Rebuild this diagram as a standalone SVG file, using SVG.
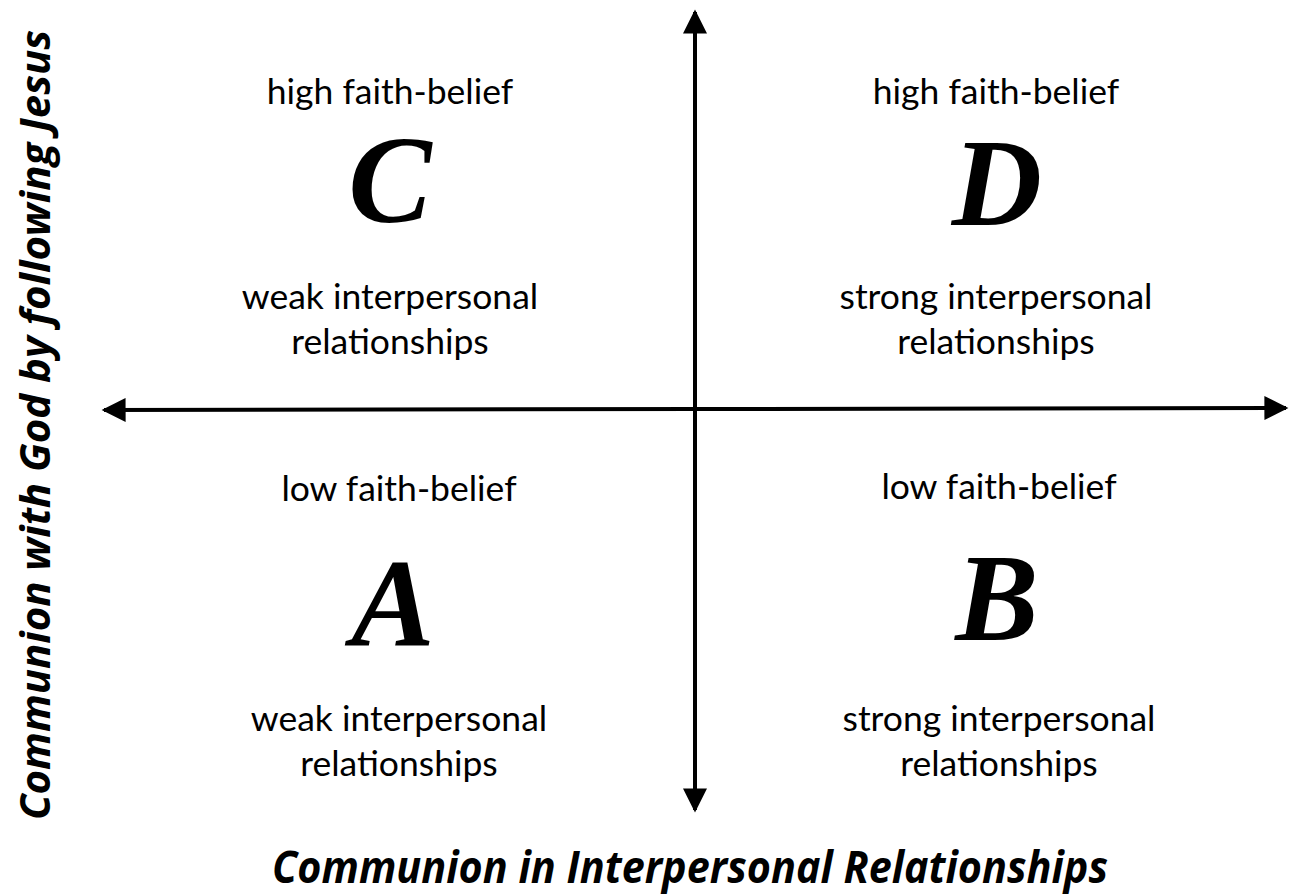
<svg xmlns="http://www.w3.org/2000/svg" width="1290" height="894" viewBox="0 0 1290 894">
<style>
.t{font-family:Lato,"Open Sans",sans-serif;font-size:35.5px;fill:#000;text-anchor:middle}
.big{font-family:"Liberation Serif",serif;font-style:italic;font-weight:bold;font-size:125px;fill:#000;text-anchor:middle}
.ax{font-family:"Open Sans","Noto Sans",sans-serif;font-style:italic;font-weight:bold;font-size:44px;fill:#000;text-anchor:middle}
.ay{font-family:"Open Sans","Noto Sans",sans-serif;font-style:italic;font-weight:bold;font-size:42px;fill:#000;text-anchor:middle}
.ln{stroke:#000;stroke-width:4;fill:none}
</style>
<defs>
<marker id="ah" viewBox="0 0 10 10" refX="9" refY="5" markerWidth="7" markerHeight="6" markerUnits="strokeWidth" orient="auto">
<path d="M0,0 L10,5 L0,10 Z" fill="#000"/>
</marker>
</defs>
<rect width="1290" height="894" fill="#fff"/>
<g id="connectors">
<line class="ln" x1="695" y1="410" x2="695" y2="12" marker-end="url(#ah)"/>
<line class="ln" x1="695" y1="410" x2="695" y2="810" marker-end="url(#ah)"/>
<line class="ln" x1="695" y1="409" x2="104" y2="410" marker-end="url(#ah)"/>
<line class="ln" x1="695" y1="409" x2="1286" y2="408" marker-end="url(#ah)"/>
</g>
<g id="quadC">
<text class="t" x="390" y="104">high faith-belief</text>
<text class="big" x="390" y="222">C</text>
<text class="t" x="390" y="309">weak interpersonal</text>
<text class="t" x="390" y="354">relationships</text>
</g>
<g id="quadD">
<text class="t" x="996" y="104">high faith-belief</text>
<text class="big" x="997" y="225">D</text>
<text class="t" x="996" y="309">strong interpersonal</text>
<text class="t" x="996" y="354">relationships</text>
</g>
<g id="quadA">
<text class="t" x="399" y="501">low faith-belief</text>
<text class="big" x="393" y="645">A</text>
<text class="t" x="399" y="731">weak interpersonal</text>
<text class="t" x="399" y="776">relationships</text>
</g>
<g id="quadB">
<text class="t" x="999" y="499">low faith-belief</text>
<text class="big" x="997" y="640">B</text>
<text class="t" x="999" y="731">strong interpersonal</text>
<text class="t" x="999" y="776">relationships</text>
</g>
<g id="xlabel">
<text class="ax" x="690" y="883" textLength="836" lengthAdjust="spacingAndGlyphs">Communion in Interpersonal Relationships</text>
</g>
<g id="ylabel">
<text class="ay" transform="translate(50,425) rotate(-90)" x="0" y="0" textLength="790" lengthAdjust="spacingAndGlyphs">Communion with God by following Jesus</text>
</g>
</svg>
